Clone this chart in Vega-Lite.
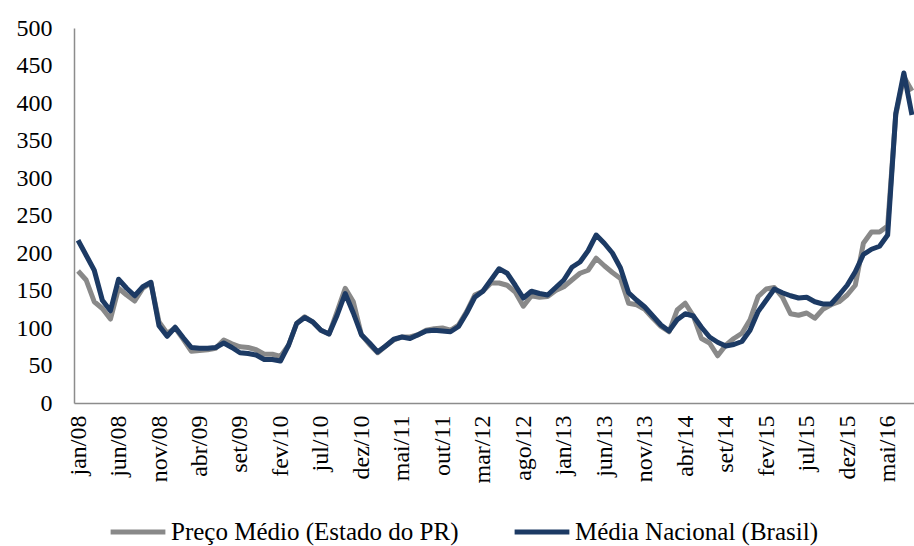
{
  "$schema": "https://vega.github.io/schema/vega-lite/v6.json",
  "width": 842,
  "height": 375,
  "autosize": "none",
  "padding": {"left": 74, "top": 28, "right": 0, "bottom": 143},
  "background": "white",
  "config": {
    "view": {"stroke": null},
    "font": "Liberation Serif",
    "axisY": {
      "values": [0, 50, 100, 150, 200, 250, 300, 350, 400, 450, 500],
      "labelOverlap": false,
      "labelFontSize": 24,
      "labelColor": "black",
      "labelPadding": 22,
      "ticks": false,
      "grid": false,
      "domainColor": "#8c8c8c",
      "domainWidth": 1.5
    }
  },
  "data": {"values": [
    {"mes": "jan/08", "pr": 176, "br": 217},
    {"mes": "fev/08", "pr": 164, "br": 197},
    {"mes": "mar/08", "pr": 135, "br": 177},
    {"mes": "abr/08", "pr": 126, "br": 137},
    {"mes": "mai/08", "pr": 112, "br": 123},
    {"mes": "jun/08", "pr": 153, "br": 165},
    {"mes": "jul/08", "pr": 144, "br": 153},
    {"mes": "ago/08", "pr": 136, "br": 143},
    {"mes": "set/08", "pr": 153, "br": 155},
    {"mes": "out/08", "pr": 160, "br": 161},
    {"mes": "nov/08", "pr": 108, "br": 103},
    {"mes": "dez/08", "pr": 93, "br": 89},
    {"mes": "jan/09", "pr": 100, "br": 101},
    {"mes": "fev/09", "pr": 85, "br": 87},
    {"mes": "mar/09", "pr": 69, "br": 74},
    {"mes": "abr/09", "pr": 70, "br": 73},
    {"mes": "mai/09", "pr": 71, "br": 73},
    {"mes": "jun/09", "pr": 73, "br": 74},
    {"mes": "jul/09", "pr": 84, "br": 80},
    {"mes": "ago/09", "pr": 79, "br": 74},
    {"mes": "set/09", "pr": 75, "br": 67},
    {"mes": "out/09", "pr": 74, "br": 66},
    {"mes": "nov/09", "pr": 71, "br": 64},
    {"mes": "dez/09", "pr": 65, "br": 58},
    {"mes": "jan/10", "pr": 65, "br": 58},
    {"mes": "fev/10", "pr": 62, "br": 56},
    {"mes": "mar/10", "pr": 77, "br": 77},
    {"mes": "abr/10", "pr": 106, "br": 106},
    {"mes": "mai/10", "pr": 115, "br": 114},
    {"mes": "jun/10", "pr": 108, "br": 108},
    {"mes": "jul/10", "pr": 97, "br": 97},
    {"mes": "ago/10", "pr": 92, "br": 92},
    {"mes": "set/10", "pr": 122, "br": 117},
    {"mes": "out/10", "pr": 153, "br": 146},
    {"mes": "nov/10", "pr": 135, "br": 120},
    {"mes": "dez/10", "pr": 91, "br": 91},
    {"mes": "jan/11", "pr": 78, "br": 80},
    {"mes": "fev/11", "pr": 67, "br": 68},
    {"mes": "mar/11", "pr": 76, "br": 76},
    {"mes": "abr/11", "pr": 84, "br": 85},
    {"mes": "mai/11", "pr": 88, "br": 88},
    {"mes": "jun/11", "pr": 88, "br": 86},
    {"mes": "jul/11", "pr": 91, "br": 91},
    {"mes": "ago/11", "pr": 97, "br": 96},
    {"mes": "set/11", "pr": 99, "br": 97},
    {"mes": "out/11", "pr": 100, "br": 96},
    {"mes": "nov/11", "pr": 97, "br": 95},
    {"mes": "dez/11", "pr": 104, "br": 102},
    {"mes": "jan/12", "pr": 122, "br": 120},
    {"mes": "fev/12", "pr": 144, "br": 141},
    {"mes": "mar/12", "pr": 149, "br": 149},
    {"mes": "abr/12", "pr": 160, "br": 164},
    {"mes": "mai/12", "pr": 160, "br": 179},
    {"mes": "jun/12", "pr": 157, "br": 173},
    {"mes": "jul/12", "pr": 148, "br": 157},
    {"mes": "ago/12", "pr": 129, "br": 140},
    {"mes": "set/12", "pr": 143, "br": 149},
    {"mes": "out/12", "pr": 141, "br": 146},
    {"mes": "nov/12", "pr": 142, "br": 144},
    {"mes": "dez/12", "pr": 150, "br": 154},
    {"mes": "jan/13", "pr": 155, "br": 164},
    {"mes": "fev/13", "pr": 164, "br": 181},
    {"mes": "mar/13", "pr": 173, "br": 188},
    {"mes": "abr/13", "pr": 177, "br": 203},
    {"mes": "mai/13", "pr": 193, "br": 224},
    {"mes": "jun/13", "pr": 183, "br": 213},
    {"mes": "jul/13", "pr": 174, "br": 200},
    {"mes": "ago/13", "pr": 166, "br": 180},
    {"mes": "set/13", "pr": 133, "br": 147},
    {"mes": "out/13", "pr": 131, "br": 137},
    {"mes": "nov/13", "pr": 125, "br": 128},
    {"mes": "dez/13", "pr": 113, "br": 116},
    {"mes": "jan/14", "pr": 102, "br": 104},
    {"mes": "fev/14", "pr": 95, "br": 96},
    {"mes": "mar/14", "pr": 124, "br": 111},
    {"mes": "abr/14", "pr": 133, "br": 119},
    {"mes": "mai/14", "pr": 116, "br": 116},
    {"mes": "jun/14", "pr": 86, "br": 101},
    {"mes": "jul/14", "pr": 80, "br": 88},
    {"mes": "ago/14", "pr": 63, "br": 81},
    {"mes": "set/14", "pr": 77, "br": 76},
    {"mes": "out/14", "pr": 86, "br": 78},
    {"mes": "nov/14", "pr": 93, "br": 82},
    {"mes": "dez/14", "pr": 111, "br": 97},
    {"mes": "jan/15", "pr": 142, "br": 122},
    {"mes": "fev/15", "pr": 152, "br": 137},
    {"mes": "mar/15", "pr": 154, "br": 152},
    {"mes": "abr/15", "pr": 141, "br": 147},
    {"mes": "mai/15", "pr": 119, "br": 143},
    {"mes": "jun/15", "pr": 117, "br": 140},
    {"mes": "jul/15", "pr": 120, "br": 141},
    {"mes": "ago/15", "pr": 113, "br": 135},
    {"mes": "set/15", "pr": 125, "br": 132},
    {"mes": "out/15", "pr": 131, "br": 132},
    {"mes": "nov/15", "pr": 135, "br": 144},
    {"mes": "dez/15", "pr": 144, "br": 157},
    {"mes": "jan/16", "pr": 157, "br": 175},
    {"mes": "fev/16", "pr": 213, "br": 198},
    {"mes": "mar/16", "pr": 228, "br": 205},
    {"mes": "abr/16", "pr": 228, "br": 209},
    {"mes": "mai/16", "pr": 236, "br": 224},
    {"mes": "jun/16", "pr": 384, "br": 386},
    {"mes": "jul/16", "pr": 435, "br": 440},
    {"mes": "ago/16", "pr": 416, "br": 384}
  ]},
  "encoding": {
    "x": {
      "field": "mes",
      "type": "ordinal",
      "sort": null,
      "title": null,
      "scale": {"type": "point", "padding": 0.5},
      "axis": {
        "values": ["jan/08", "jun/08", "nov/08", "abr/09", "set/09", "fev/10", "jul/10", "dez/10", "mai/11", "out/11", "mar/12", "ago/12", "jan/13", "jun/13", "nov/13", "abr/14", "set/14", "fev/15", "jul/15", "dez/15", "mai/16"],
        "labelAngle": -90,
        "labelFontSize": 24,
        "labelColor": "black",
        "labelPadding": 12,
        "labelOverlap": false,
        "ticks": false,
        "grid": false,
        "domainColor": "#8c8c8c",
        "domainWidth": 1.5
      }
    }
  },
  "layer": [
    {
      "mark": {"type": "line", "strokeWidth": 5, "strokeJoin": "round"},
      "encoding": {
        "y": {
          "field": "pr",
          "type": "quantitative",
          "title": null,
          "scale": {"domain": [0, 500], "nice": false},
          "axis": {"values": [0, 50, 100, 150, 200, 250, 300, 350, 400, 450, 500], "labelOverlap": false, "tickCount": 11}
        },
        "color": {
          "datum": "Preço Médio (Estado do PR)",
          "scale": {
            "domain": ["Preço Médio (Estado do PR)", "Média Nacional (Brasil)"],
            "range": ["#898989", "#1c3a64"]
          },
          "legend": {
            "title": null,
            "orient": "none",
            "direction": "horizontal",
            "legendX": 34,
            "legendY": 474,
            "symbolType": "stroke",
            "symbolSize": 3000,
            "symbolStrokeWidth": 5,
            "labelFontSize": 25,
            "labelColor": "black",
            "labelOffset": 3,
            "labelLimit": 0,
            "columnPadding": 45
          }
        }
      }
    },
    {
      "mark": {"type": "line", "strokeWidth": 5, "strokeJoin": "round"},
      "encoding": {
        "y": {"field": "br", "type": "quantitative", "title": null, "axis": {"values": [0, 50, 100, 150, 200, 250, 300, 350, 400, 450, 500], "labelOverlap": false, "tickCount": 11}},
        "color": {"datum": "Média Nacional (Brasil)"}
      }
    }
  ]
}
